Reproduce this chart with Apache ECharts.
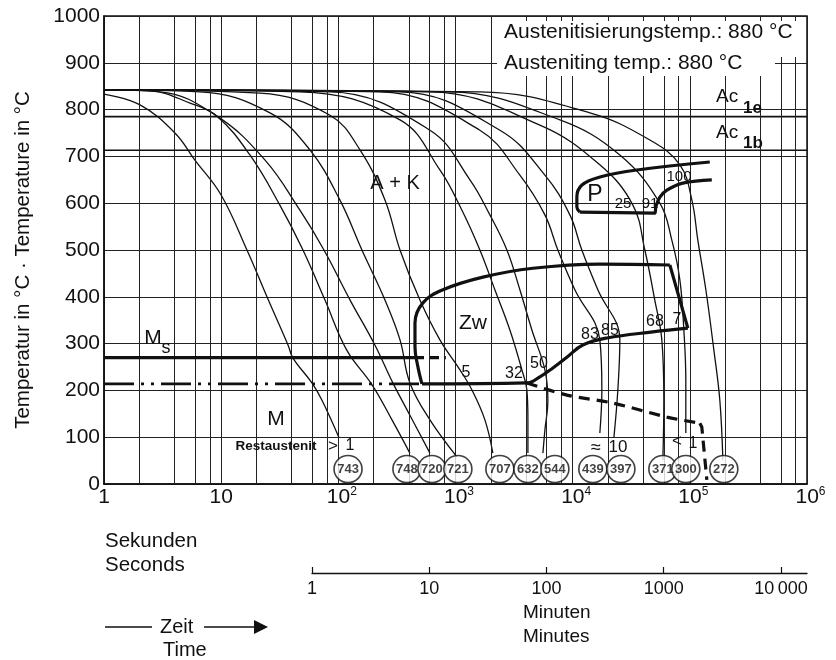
<!DOCTYPE html>
<html><head><meta charset="utf-8">
<script src="https://cdn.jsdelivr.net/npm/echarts@6/dist/echarts.min.js"></script>
<style>html,body{margin:0;padding:0;background:#fff}#c{width:836px;height:660px}</style>
</head><body><div id="c"></div>
<script>
const F = '"Liberation Sans", Arial, Helvetica, sans-serif';
const FN = '"Liberation Sans Narrow", "Liberation Sans", Arial, sans-serif';
const INK = '#111';

// ---- axes ----
const tempMin = 0, tempMax = 1000, tempStep = 100;
const secondsMin = 1, secondsMax = 1e6;
const secondsMinorGrid = [2,4,6,8,20,40,60,80,200,400,600,800,2000,4000,6000,8000,20000,40000,60000,80000,200000,400000,600000,800000];
const minuteTicks = [1,10,100,1000,10000];
const minuteTickLabels = ['1','10','100','1000','10\u2009000'];

// ---- critical temperatures ----
const Ac1e = 785, Ac1b = 713;
const msSolid = [[1,270],[451,270]];
const msDashed = [[451,270],[828,270]];
const dashDotLine = [[1,214],[517,214]];

// ---- Zw (bainite) region ----
const zwTop = [[517,214],[478,250],[451,293],[451,344],[527,387],[782,415],[1714,442],[4580,461],[17060,470],[67500,468]];
const zwRight = [[67500,468],[96200,333]];
const zwBottom = [[517,214],[4065,216],[5250,229],[6780,248],[8930,271],[12200,297],[19600,312],[48300,325],[96200,333]];
const zwDashed = [[4065,216],[8930,190],[22000,173],[63700,143],[121700,130]];
const zwDashedEnd = [[121700,130],[126500,122],[139700,9]];

// ---- P (pearlite) region ----
const pUpper = [[148000,688],[35300,671],[17100,656],[12000,639],[10860,613],[10860,592],[11500,581]];
const pLower = [[11500,581],[50200,579],[51300,592],[55500,613],[63700,628],[87100,643],[154000,650]];

// ---- cooling curves [time s, temperature °C] ----
const c743 = [[1,833],[2.03,810],[4.03,750],[5.97,692],[9.96,618],[16.6,500],[24.6,400],[37.2,297],[41,269],[59.5,216],[72.5,179],[101,100]];
const c748 = [[1,842],[2.47,840],[5.42,814],[9.21,786],[17.6,703],[31.7,596],[49.9,500],[76.9,393],[118,286],[194,212],[287,137],[408,66]];
const c720 = [[1,842],[3.0,838],[9.21,786],[23.7,692],[47,585],[75.4,500],[126,393],[205,297],[292,216],[408,147],[605,66]];
const c721 = [[1,842],[6.59,838],[26.1,793],[57.2,714],[103,607],[159,500],[250,393],[336,308],[408,216],[605,137],[1028,58]];
const c707 = [[1,842],[21.4,835],[84.8,788],[153,714],[250,607],[336,500],[497,393],[736,308],[1091,244],[1381,201],[1782,137],[2084,66]];
const c632 = [[1,842],[47,838],[336,778],[736,671],[1135,585],[1615,500],[2168,415],[2912,329],[3687,244],[4065,201],[4150,137],[4150,66]];
const c544 = [[1,842],[84.8,838],[605,756],[1328,650],[1966,575],[2746,500],[3543,415],[4487,329],[5794,244],[6142,179],[5794,115],[5570,66]];
const c439 = [[1,842],[226,838],[1615,756],[3543,660],[5794,575],[7474,500],[10440,415],[17060,308],[17750,201],[17060,109]];
const c397 = [[1,842],[336,838],[2392,756],[5794,660],[9465,575],[11970,500],[16400,415],[25270,308],[24300,201],[22500,100]];
const c371 = [[1,842],[605,838],[5251,767],[17060,682],[32650,596],[41300,500],[50230,393],[57680,308],[60000,179],[58860,51]];
const c300 = [[1,842],[896,838],[7780,778],[25270,703],[55460,600],[70200,521],[82200,436],[88900,329],[92400,222],[92400,109]];
const c272 = [[1,842],[1615,838],[14030,793],[45600,735],[82200,682],[104000,607],[117000,521],[137000,415],[160400,286],[180300,179],[191400,51]];
const coolingCurves = [c743,c748,c720,c721,c707,c632,c544,c439,c397,c371,c300,c272];

// ---- hardness (HV) in circles ----
const hardness = [743,748,720,721,707,632,544,439,397,371,300,272];
const hardnessTime = [121,385,629,1048,2392,4150,7050,14860,25800,58860,92400,195000];
const hardnessRowTemp = 32;

function ln(data, o) {
  o = o || {};
  return {
    type: 'line', data: data, xAxisIndex: 0, yAxisIndex: 0,
    showSymbol: false, symbol: 'none', silent: true, animation: false,
    smooth: o.smooth === undefined ? 0.35 : o.smooth,
    z: o.z || 3,
    lineStyle: { color: INK, width: o.width || 1.1, type: o.type || 'solid', cap: 'butt' },
    markLine: o.markLine
  };
}

const series = [];
series.push(ln([[secondsMin,Ac1e],[secondsMax,Ac1e]], {smooth:false, width:1.6, markLine: {
  silent: true, symbol: 'none', animation: false,
  label: {show:false},
  lineStyle: {color: '#222', width: 1, type: 'solid'},
  data: secondsMinorGrid.map(v => ({xAxis: v}))
}}));
series.push(ln([[secondsMin,Ac1b],[secondsMax,Ac1b]], {smooth:false, width:1.6}));
series.push(ln(msSolid, {smooth:false, width:3.2, z:5}));
series.push(ln(msDashed, {smooth:false, width:3.2, type:[9,6], z:5}));
series.push(ln(dashDotLine, {smooth:false, width:2.6, type:[30,7,3,7,3,7], z:5}));
series.push(ln(zwTop, {width:3.2, z:5, smooth:0.4}));
series.push(ln(zwRight, {width:3.2, z:5, smooth:false}));
series.push(ln(zwBottom, {width:3.2, z:5, smooth:0.4}));
series.push(ln(zwDashed, {width:3.2, z:5, type:[11,7], smooth:0.3}));
series.push(ln(zwDashedEnd, {width:3.2, z:5, type:[11,7], smooth:false}));
series.push(ln(pUpper, {width:3.2, z:5, smooth:0.4}));
series.push(ln(pLower, {width:3.2, z:5, smooth:0.4}));
coolingCurves.forEach(c => series.push(ln(c, {width:1.3, smooth:0.4})));
series.push({
  type: 'scatter', xAxisIndex: 0, yAxisIndex: 0, silent: true, z: 10,
  symbol: 'circle', symbolSize: [28, 27],
  itemStyle: {color: '#fff', borderColor: INK, borderWidth: 1.6},
  label: {show: true, position: 'inside', formatter: p => String(p.value[2]), fontFamily: FN, fontSize: 13, fontWeight: 'bold', color: INK},
  data: hardness.map((h, i) => [hardnessTime[i], hardnessRowTemp, h])
});
series.push({type:'line', xAxisIndex:1, yAxisIndex:1, data:[], silent:true});

const T = (text, x, y, size, extra) => Object.assign({
  type: 'text', z: 120, silent: true,
  style: Object.assign({text: text, x: x, y: y, fill: INK, font: size + 'px ' + F, textAlign: 'left', textVerticalAlign: 'middle'}, extra || {})
});

const graphic = [
  {type:'rect', z:110, silent:true, shape:{x:497, y:21, width:300, height:36}, style:{fill:'#fff'}},
  {type:'rect', z:110, silent:true, shape:{x:497, y:56, width:278, height:20}, style:{fill:'#fff'}},
  T('Austenitisierungstemp.: 880 °C', 504, 32, 21),
  T('Austeniting temp.: 880 °C', 504, 63, 21),
  T('Ac', 716, 97, 19), T('1e', 743, 108, 17, {font: 'bold 17px ' + F}),
  T('Ac', 716, 133, 19), T('1b', 743, 143, 17, {font: 'bold 17px ' + F}),
  T('A + K', 395, 183, 20, {textAlign:'center'}),
  T('P', 595, 195, 23, {textAlign:'center'}),
  T('25', 623, 204, 15, {textAlign:'center', font: '15px ' + FN}),
  T('91', 650, 204, 15, {textAlign:'center', font: '15px ' + FN}),
  T('100', 679, 177, 15, {textAlign:'center', font: '15px ' + FN}),
  T('Zw', 473, 323, 21, {textAlign:'center'}),
  T('5', 466, 373, 16, {textAlign:'center', font: '16px ' + FN}),
  T('32', 514, 374, 16, {textAlign:'center', font: '16px ' + FN}),
  T('50', 539, 364, 16, {textAlign:'center', font: '16px ' + FN}),
  T('83', 590, 335, 16, {textAlign:'center', font: '16px ' + FN}),
  T('85', 610, 331, 16, {textAlign:'center', font: '16px ' + FN}),
  T('68', 655, 322, 16, {textAlign:'center', font: '16px ' + FN}),
  T('7', 677, 320, 16, {textAlign:'center', font: '16px ' + FN}),
  T('M', 153, 338, 21, {textAlign:'center'}),
  T('s', 166, 348, 18, {textAlign:'center'}),
  T('M', 276, 419, 21, {textAlign:'center'}),
  T('Restaustenit', 276, 446, 13.5, {textAlign:'center', font: 'bold 13.5px ' + FN}),
  T('>', 333, 446, 17, {textAlign:'center'}),
  T('1', 350, 446, 16, {textAlign:'center', font: '16px ' + FN}),
  T('\u2248', 596, 448, 18, {textAlign:'center'}),
  T('10', 618, 447, 17, {textAlign:'center', font: '17px ' + FN}),
  T('<', 677, 441, 17, {textAlign:'center'}),
  T('1', 693, 444, 16, {textAlign:'center', font: '16px ' + FN}),
  {type:'text', z:120, silent:true, rotation: Math.PI/2, x: 23, y: 260,
   style:{text:'Temperatur in °C · Temperature in °C', x:0, y:0, fill:INK, font:'20.5px ' + F, textAlign:'center', textVerticalAlign:'middle'}},
  T('Sekunden', 105, 541, 20.5),
  T('Seconds', 105, 565, 20.5),
  T('Minuten', 523, 613, 19),
  T('Minutes', 523, 637, 19),
  {type:'line', z:120, silent:true, shape:{x1:105, y1:627, x2:152, y2:627}, style:{stroke:INK, lineWidth:1.3}},
  T('Zeit', 160, 627, 20),
  {type:'line', z:120, silent:true, shape:{x1:204, y1:627, x2:256, y2:627}, style:{stroke:INK, lineWidth:1.3}},
  {type:'polygon', z:120, silent:true, shape:{points:[[254,620],[268,627],[254,634]]}, style:{fill:INK}},
  T('Time', 163, 650, 20)
];

const option = {
  animation: false,
  backgroundColor: '#fff',
  textStyle: {fontFamily: F},
  grid: [
    {left: 104, top: 16, width: 703, height: 468, show: true, borderColor: INK, borderWidth: 1.5, backgroundColor: 'transparent'},
    {left: 312, top: 572, width: 495, height: 1}
  ],
  xAxis: [
    {type: 'log', logBase: 10, min: secondsMin, max: secondsMax, gridIndex: 0,
     axisLine: {onZero: false, lineStyle: {color: INK, width: 1.5}},
     axisTick: {show: false},
     splitLine: {show: true, lineStyle: {color: '#222', width: 1}},
     axisLabel: {
       margin: 2, color: INK, fontFamily: F, fontSize: 21,
       formatter: v => {
         const e = Math.round(Math.log10(v));
         if (e <= 1) return '{b|' + Math.round(Math.pow(10, e)) + '}';
         return '{p| }{b|10}{s|' + e + '}';
       },
       rich: {
         b: {fontSize: 21, fontFamily: F, color: INK, lineHeight: 23},
         p: {fontSize: 12, width: 7, lineHeight: 23},
         s: {fontSize: 12, fontFamily: F, color: INK, lineHeight: 23, verticalAlign: 'top'}
       }
     }},
    {type: 'log', logBase: 10, min: 1, max: secondsMax / 60, gridIndex: 1, position: 'bottom',
     axisLine: {show: true, onZero: false, lineStyle: {color: INK, width: 1.3}},
     axisTick: {show: true, inside: true, length: 6, customValues: minuteTicks, lineStyle: {color: INK, width: 1.2}},
     splitLine: {show: false},
     axisLabel: {
       customValues: minuteTicks, margin: 7, color: INK, fontFamily: F, fontSize: 18,
       formatter: v => {
         const i = minuteTicks.findIndex(m => Math.abs(m - v) / m < 1e-6);
         return i >= 0 ? minuteTickLabels[i] : '';
       }
     }}
  ],
  yAxis: [
    {type: 'value', min: tempMin, max: tempMax, interval: tempStep, gridIndex: 0,
     axisLine: {show: true, onZero: false, lineStyle: {color: INK, width: 1.5}},
     axisTick: {show: false},
     splitLine: {show: true, lineStyle: {color: '#222', width: 1}},
     axisLabel: {fontSize: 21, color: INK, margin: 4, fontFamily: F, formatter: v => String(v)}},
    {type: 'value', gridIndex: 1, show: false, min: 0, max: 1}
  ],
  series: series,
  graphic: graphic
};

const chart = echarts.init(document.getElementById('c'));
chart.setOption(option);
</script>
</body></html>
